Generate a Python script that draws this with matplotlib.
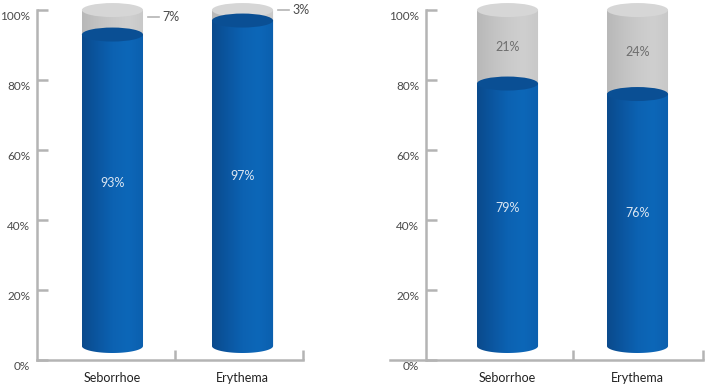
import numpy as np
import matplotlib
matplotlib.use("Agg")
import matplotlib.pyplot as plt
import matplotlib.transforms as mtrans
from matplotlib.patches import Ellipse, PathPatch
from matplotlib.path import Path
from matplotlib.colors import LinearSegmentedColormap

categories = ["Seborrhoe", "Erythema"]
left_blue = [93, 97]
left_gray = [7, 3]
right_blue = [79, 76]
right_gray = [21, 24]
yticks = [0, 20, 40, 60, 80, 100]
ytick_labels = ["0%", "20%", "40%", "60%", "80%", "100%"]

plt.rcParams['font.family'] = ['Lato', 'DejaVu Sans']

W, H = 705, 386
fig = plt.figure(figsize=(W / 100, H / 100), dpi=100)

AXIS_C = "#b4b4b4"
TEXT_C = "#4a4a4a"
blue_cmap = LinearSegmentedColormap.from_list(
    "b", ["#0a4a8c", "#0b56a0", "#0c62b2", "#0d67b8", "#0b5fae"])
gray_cmap = LinearSegmentedColormap.from_list(
    "g", ["#b8b8b8", "#c2c2c2", "#cacaca", "#cfcfcf", "#c8c8c8"])
BLUE_TOP = "#0a4f94"
GRAY_TOP = "#d6d6d6"

BASE = 4.0
BW = 0.47
EH = 4.0  # ellipse full height in data units


def px_axes(x0, x1, ytop, ybot):
    return fig.add_axes([x0 / W, (H - ybot) / H, (x1 - x0) / W, (ybot - ytop) / H])


def body(ax, x, y0, y1, cmap, z):
    n = 40
    t = np.linspace(np.pi, 2 * np.pi, n)
    xs = x + BW / 2 * np.cos(t)
    ys = y0 + EH / 2 * np.sin(t)
    verts = list(zip(xs, ys)) + [(x + BW / 2, y1), (x - BW / 2, y1), (xs[0], ys[0])]
    codes = [Path.MOVETO] + [Path.LINETO] * (len(verts) - 2) + [Path.CLOSEPOLY]
    path = Path(verts, codes)
    patch = PathPatch(path, facecolor="none", edgecolor="none", transform=ax.transData)
    ax.add_patch(patch)
    grad = np.linspace(0, 1, 256).reshape(1, -1)
    im = ax.imshow(grad, cmap=cmap, aspect="auto",
                   extent=(x - BW / 2, x + BW / 2, y0 - EH / 2, y1),
                   zorder=z, clip_on=True)
    im.set_clip_path(patch)


def panel(ax, blues, grays, inside_gray_labels, xlim, spine_x, bound_tick, xs_end):
    ax.set_xlim(*xlim)
    ax.set_ylim(0, 102.3)
    xpos = np.arange(len(categories))
    for i, (b, g) in enumerate(zip(blues, grays)):
        x = xpos[i]
        top = b + g
        body(ax, x, BASE, b, blue_cmap, 2)
        body(ax, x, b, top, gray_cmap, 1)
        ax.add_patch(Ellipse((x, top), BW, EH, facecolor=GRAY_TOP, edgecolor="none", zorder=3))
        ax.add_patch(Ellipse((x, b), BW, EH, facecolor=BLUE_TOP, edgecolor="none", zorder=4))
        ax.text(x, b / 2 + BASE, f"{b}%", color="#dbe6f2", ha="center", va="center",
                fontsize=9, zorder=5)
        if inside_gray_labels:
            ax.text(x, b + g / 2, f"{g}%", color="#6e6e6e", ha="center", va="center",
                    fontsize=9, zorder=5)
        else:
            yy = top - g / 2 + 1.5
            ax.plot([x + BW / 2 + 0.04, x + BW / 2 + 0.12], [yy, yy], color=AXIS_C, lw=1.2)
            ax.text(x + BW / 2 + 0.15, yy, f"{g}%", color=TEXT_C, ha="left", va="center",
                    fontsize=9)
    for s in ["top", "right"]:
        ax.spines[s].set_visible(False)
    ax.spines["left"].set_position(("data", spine_x))
    ax.spines["left"].set_bounds(0, 100)
    ax.spines["bottom"].set_bounds(xlim[0], xs_end)
    for s in ["left", "bottom"]:
        ax.spines[s].set_color(AXIS_C)
        ax.spines[s].set_linewidth(1.8)
    ax.set_yticks(yticks)
    ax.set_yticklabels(ytick_labels)
    ax.tick_params(axis="y", direction="in", length=8, width=1.8, color=AXIS_C,
                   labelcolor=TEXT_C, labelsize=8.5, pad=5)
    shift = mtrans.ScaledTranslation(0, -5 / 100, fig.dpi_scale_trans)
    for lab in ax.get_yticklabels():
        lab.set_transform(lab.get_transform() + shift)
    ax.set_xticks(xpos)
    ax.set_xticklabels(categories)
    ax.tick_params(axis="x", which="major", length=0, labelcolor="#222222",
                   labelsize=9, pad=8.5)
    ax.set_xticks([bound_tick, xs_end], minor=True)
    ax.tick_params(axis="x", which="minor", direction="in", length=7, width=1.8,
                   color=AXIS_C)


ax1 = px_axes(37, 303, 2, 360)
panel(ax1, left_blue, left_gray, False, (-0.58, 1.465), -0.58, 0.48, 1.465)

ax2 = px_axes(390, 703, 2, 360)
panel(ax2, right_blue, right_gray, True, (-0.904, 1.504), -0.627, 0.504, 1.504)

fig.savefig("out.png", dpi=100)
